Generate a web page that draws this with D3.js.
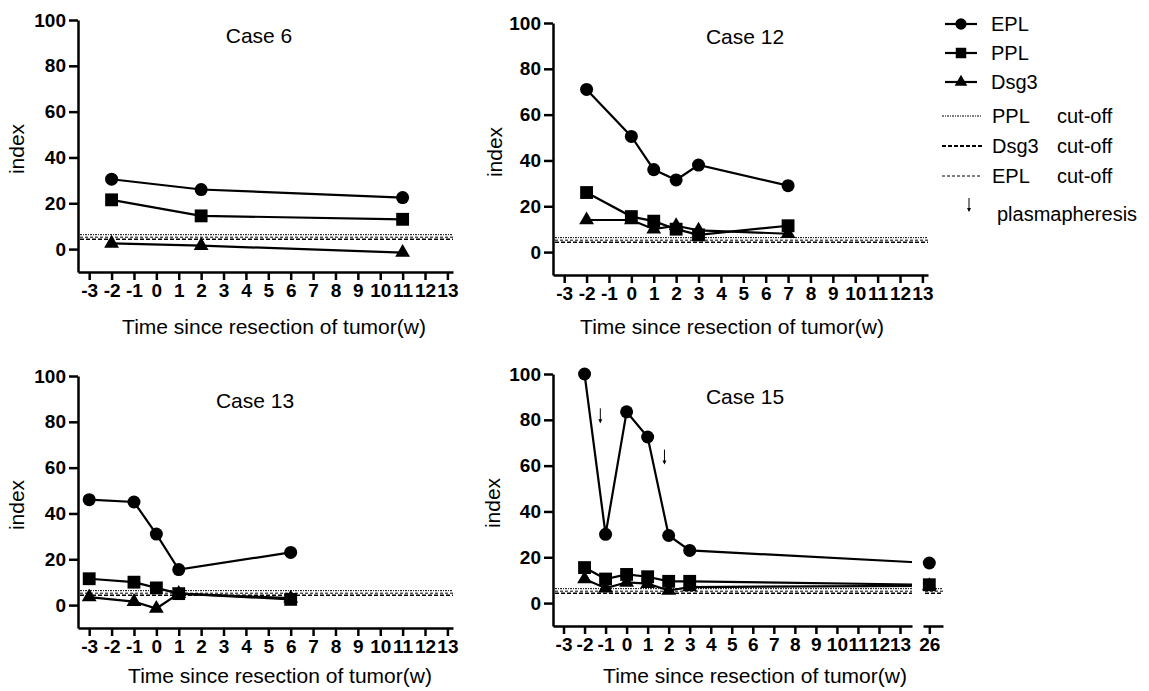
<!DOCTYPE html>
<html lang="en">
<head>
  <meta charset="utf-8" />
  <title>Antibody index after tumor resection</title>
  <script src="https://cdn.jsdelivr.net/npm/d3@7"></script>
  <style>
    body { margin: 0; background: #fff; }
    svg { display: block; font-family: "Liberation Sans", Arial, sans-serif; }
    .tick text { font-weight: bold; font-size: 19px; }
    .domain, .tick line { stroke: #000; stroke-width: 2.5px; }
  </style>
</head>
<body>
<div id="chart"></div>
<script>
  const w = 1149, h = 691;

  // cut-off values (index)
  const pplCut = 6.3;
  const eplCut = 5.2;
  const dsgCut = 4.3;

  // Case 6
  const weeks6 = [-2, 2, 11];
  const epl6 = [30.5, 26, 22.5];
  const ppl6 = [21.5, 14.5, 13];
  const dsg6 = [2.5, 1.5, -1.5];

  // Case 12
  const weeks12 = [-2, 0, 1, 2, 3, 7];
  const epl12 = [71, 50.5, 36, 31.5, 38, 29];
  const ppl12 = [26, 15.5, 13.5, 10, 7.5, 11.5];
  const dsg12 = [14, 14, 10, 11.5, 9.5, 8];

  // Case 13
  const weeks13 = [-3, -1, 0, 1, 6];
  const epl13 = [46, 45, 31, 15.5, 23];
  const ppl13 = [11.5, 10, 7.5, 5, 2.5];
  const dsg13 = [3.5, 1.5, -1.5, 5, 3];

  // Case 15
  const weeks15 = [-2, -1, 0, 1, 2, 3, 26];
  const epl15 = [100, 30, 83.5, 72.5, 29.5, 23, 17.5];
  const ppl15 = [15.5, 10.5, 12.5, 11.5, 9.5, 9.5, 8];
  const dsg15 = [10.5, 6.5, 9, 8.5, 5.5, 7, 7.5];
  const plasmaWeeks = [-1.25, 1.8];
  const plasmaIndex = [85, 67];

  const xTicks = d3.range(-3, 14);
  const yTicks = [0, 20, 40, 60, 80, 100];

  const svg = d3.select("#chart").append("svg")
      .attr("width", w)
      .attr("height", h);

  svg.append("rect").attr("width", w).attr("height", h).attr("fill", "#fff");

  const circle = d3.symbol().type(d3.symbolCircle).size(133);
  const square = d3.symbol().type(d3.symbolSquare).size(165);
  const triangle = d3.symbol().type(d3.symbolTriangle).size(95);

  // plain hyphen instead of unicode minus, like the original figure
  const fmt = d => String(d);

  const panels = [
    {name: "Case 6", x0: 78, y100: 20, weeks: weeks6, epl: epl6, ppl: ppl6, dsg: dsg6,
     titleX: 259, titleY: 36, xTitleX: 274, xTitleY: 327, labelX: 17},
    {name: "Case 12", x0: 553, y100: 23, weeks: weeks12, epl: epl12, ppl: ppl12, dsg: dsg12,
     titleX: 745, titleY: 37, xTitleX: 732, xTitleY: 327, labelX: 495},
    {name: "Case 13", x0: 78, y100: 376, weeks: weeks13, epl: epl13, ppl: ppl13, dsg: dsg13,
     titleX: 255, titleY: 401, xTitleX: 280, xTitleY: 676, labelX: 17},
    {name: "Case 15", x0: 553, y100: 374, weeks: weeks15, epl: epl15, ppl: ppl15, dsg: dsg15,
     titleX: 745, titleY: 397, xTitleX: 755, xTitleY: 676, labelX: 493, broken: true}
  ];

  panels.forEach((p, pi) => {
    const g = svg.append("g");
    const y = d3.scaleLinear().domain([-10, 100]).range([p.y100 + 252, p.y100]);

    let x, xBrk;
    if (p.broken) {
      x = d3.scaleLinear().domain([-3.5, 13.57]).range([p.x0, p.x0 + 359]);
      xBrk = d3.scaleLinear().domain([25.7, 26.65]).range([923, 943]);
    } else {
      x = d3.scaleLinear().domain([-3.5, 13.25]).range([p.x0, p.x0 + 375]);
    }
    const xf = v => (p.broken && v > 20) ? xBrk(v) : x(v);

    // clip for broken axis
    let clipId = null;
    if (p.broken) {
      clipId = "clip" + pi;
      const cp = svg.append("clipPath").attr("id", clipId);
      cp.append("rect").attr("x", 0).attr("y", 0).attr("width", x.range()[1]).attr("height", h);
      cp.append("rect").attr("x", xBrk.range()[0]).attr("y", 0).attr("width", 40).attr("height", h);
    }

    // cut-off lines
    const cuts = [
      {v: pplCut, dash: "2,1,1,1", sw: 1},
      {v: eplCut, dash: "3,2", sw: 1},
      {v: dsgCut, dash: "4,2", sw: 1.6}
    ];
    const segs = p.broken ? [x.range(), xBrk.range()] : [x.range()];
    segs.forEach(r => {
      cuts.forEach(c => {
        g.append("line")
          .attr("x1", r[0] + 2).attr("x2", r[1])
          .attr("y1", y(c.v)).attr("y2", y(c.v))
          .attr("stroke", "#000")
          .attr("stroke-width", c.sw)
          .attr("stroke-dasharray", c.dash);
      });
    });

    // axes
    g.append("g")
      .attr("transform", `translate(${p.x0},0)`)
      .call(d3.axisLeft(y).tickValues(yTicks).tickSize(9).tickSizeOuter(0).tickPadding(3).tickFormat(fmt));

    g.append("g")
      .attr("transform", `translate(0,${y(-10)})`)
      .call(d3.axisBottom(x).tickValues(xTicks).tickSize(8).tickSizeOuter(0).tickPadding(4).tickFormat(fmt));

    if (p.broken) {
      g.append("g")
        .attr("transform", `translate(0,${y(-10)})`)
        .call(d3.axisBottom(xBrk).tickValues([26]).tickSize(8).tickSizeOuter(0).tickPadding(4).tickFormat(fmt));
    }

    // series
    const series = [
      {vals: p.epl, sym: circle},
      {vals: p.ppl, sym: square},
      {vals: p.dsg, sym: triangle}
    ];
    const line = d3.line().x(d => xf(d[0])).y(d => y(d[1]));

    series.forEach(s => {
      const pts = p.weeks.map((wk, i) => [wk, s.vals[i]]);
      const path = g.append("path")
        .datum(pts)
        .attr("d", line)
        .attr("fill", "none")
        .attr("stroke", "#000")
        .attr("stroke-width", 2.2);
      if (clipId) path.attr("clip-path", `url(#${clipId})`);

      g.selectAll(null)
        .data(pts)
        .enter()
        .append("path")
        .attr("d", s.sym)
        .attr("transform", d => `translate(${xf(d[0])},${y(d[1])})`)
        .attr("fill", "#000");
    });

    // plasmapheresis arrows
    if (p.broken) {
      plasmaWeeks.forEach((wk, i) => {
        const ax = x(wk), ay = y(plasmaIndex[i]);
        g.append("line")
          .attr("x1", ax).attr("x2", ax)
          .attr("y1", ay).attr("y2", ay + 14)
          .attr("stroke", "#000").attr("stroke-width", 1);
        g.append("path")
          .attr("d", `M${ax - 2},${ay + 11}L${ax + 2},${ay + 11}L${ax},${ay + 15}Z`)
          .attr("fill", "#000");
      });
    }

    // titles
    g.append("text")
      .attr("x", p.titleX).attr("y", p.titleY)
      .attr("dy", "0.35em")
      .attr("text-anchor", "middle")
      .attr("font-size", 21)
      .text(p.name);

    g.append("text")
      .attr("x", p.xTitleX).attr("y", p.xTitleY)
      .attr("dy", "0.35em")
      .attr("text-anchor", "middle")
      .attr("font-size", 21)
      .text("Time since resection of tumor(w)");

    g.append("text")
      .attr("transform", `translate(${p.labelX},${p.y100 + 129}) rotate(-90)`)
      .attr("dy", "0.35em")
      .attr("text-anchor", "middle")
      .attr("font-size", 21)
      .text("index");
  });

  // legend
  const legend = svg.append("g").attr("class", "legend");
  const legendSeries = [
    {label: "EPL", sym: d3.symbol().type(d3.symbolCircle).size(100), y: 24},
    {label: "PPL", sym: d3.symbol().type(d3.symbolSquare).size(110), y: 53},
    {label: "Dsg3", sym: d3.symbol().type(d3.symbolTriangle).size(70), y: 82}
  ];
  legendSeries.forEach(s => {
    legend.append("line")
      .attr("x1", 945).attr("x2", 977)
      .attr("y1", s.y).attr("y2", s.y)
      .attr("stroke", "#000").attr("stroke-width", 2.2);
    legend.append("path")
      .attr("d", s.sym)
      .attr("transform", `translate(961,${s.y})`)
      .attr("fill", "#000");
    legend.append("text")
      .attr("x", 991).attr("y", s.y)
      .attr("dy", "0.35em")
      .attr("font-size", 20)
      .text(s.label);
  });

  const legendCuts = [
    {label: "PPL", dash: "2,1,1,1", sw: 1, y: 116},
    {label: "Dsg3", dash: "4,2", sw: 1.8, y: 146},
    {label: "EPL", dash: "3,2", sw: 1, y: 176}
  ];
  legendCuts.forEach(c => {
    legend.append("line")
      .attr("x1", 942).attr("x2", 982)
      .attr("y1", c.y).attr("y2", c.y)
      .attr("stroke", "#000").attr("stroke-width", c.sw)
      .attr("stroke-dasharray", c.dash);
    legend.append("text")
      .attr("x", 992).attr("y", c.y)
      .attr("dy", "0.35em")
      .attr("font-size", 20)
      .text(c.label);
    legend.append("text")
      .attr("x", 1057).attr("y", c.y)
      .attr("dy", "0.35em")
      .attr("font-size", 20)
      .text("cut-off");
  });

  legend.append("line")
    .attr("x1", 969).attr("x2", 969)
    .attr("y1", 198).attr("y2", 211)
    .attr("stroke", "#000").attr("stroke-width", 1);
  legend.append("path")
    .attr("d", "M967,208L971,208L969,212Z")
    .attr("fill", "#000");
  legend.append("text")
    .attr("x", 997).attr("y", 214)
    .attr("dy", "0.35em")
    .attr("font-size", 20)
    .text("plasmapheresis");
</script>
</body>
</html>
